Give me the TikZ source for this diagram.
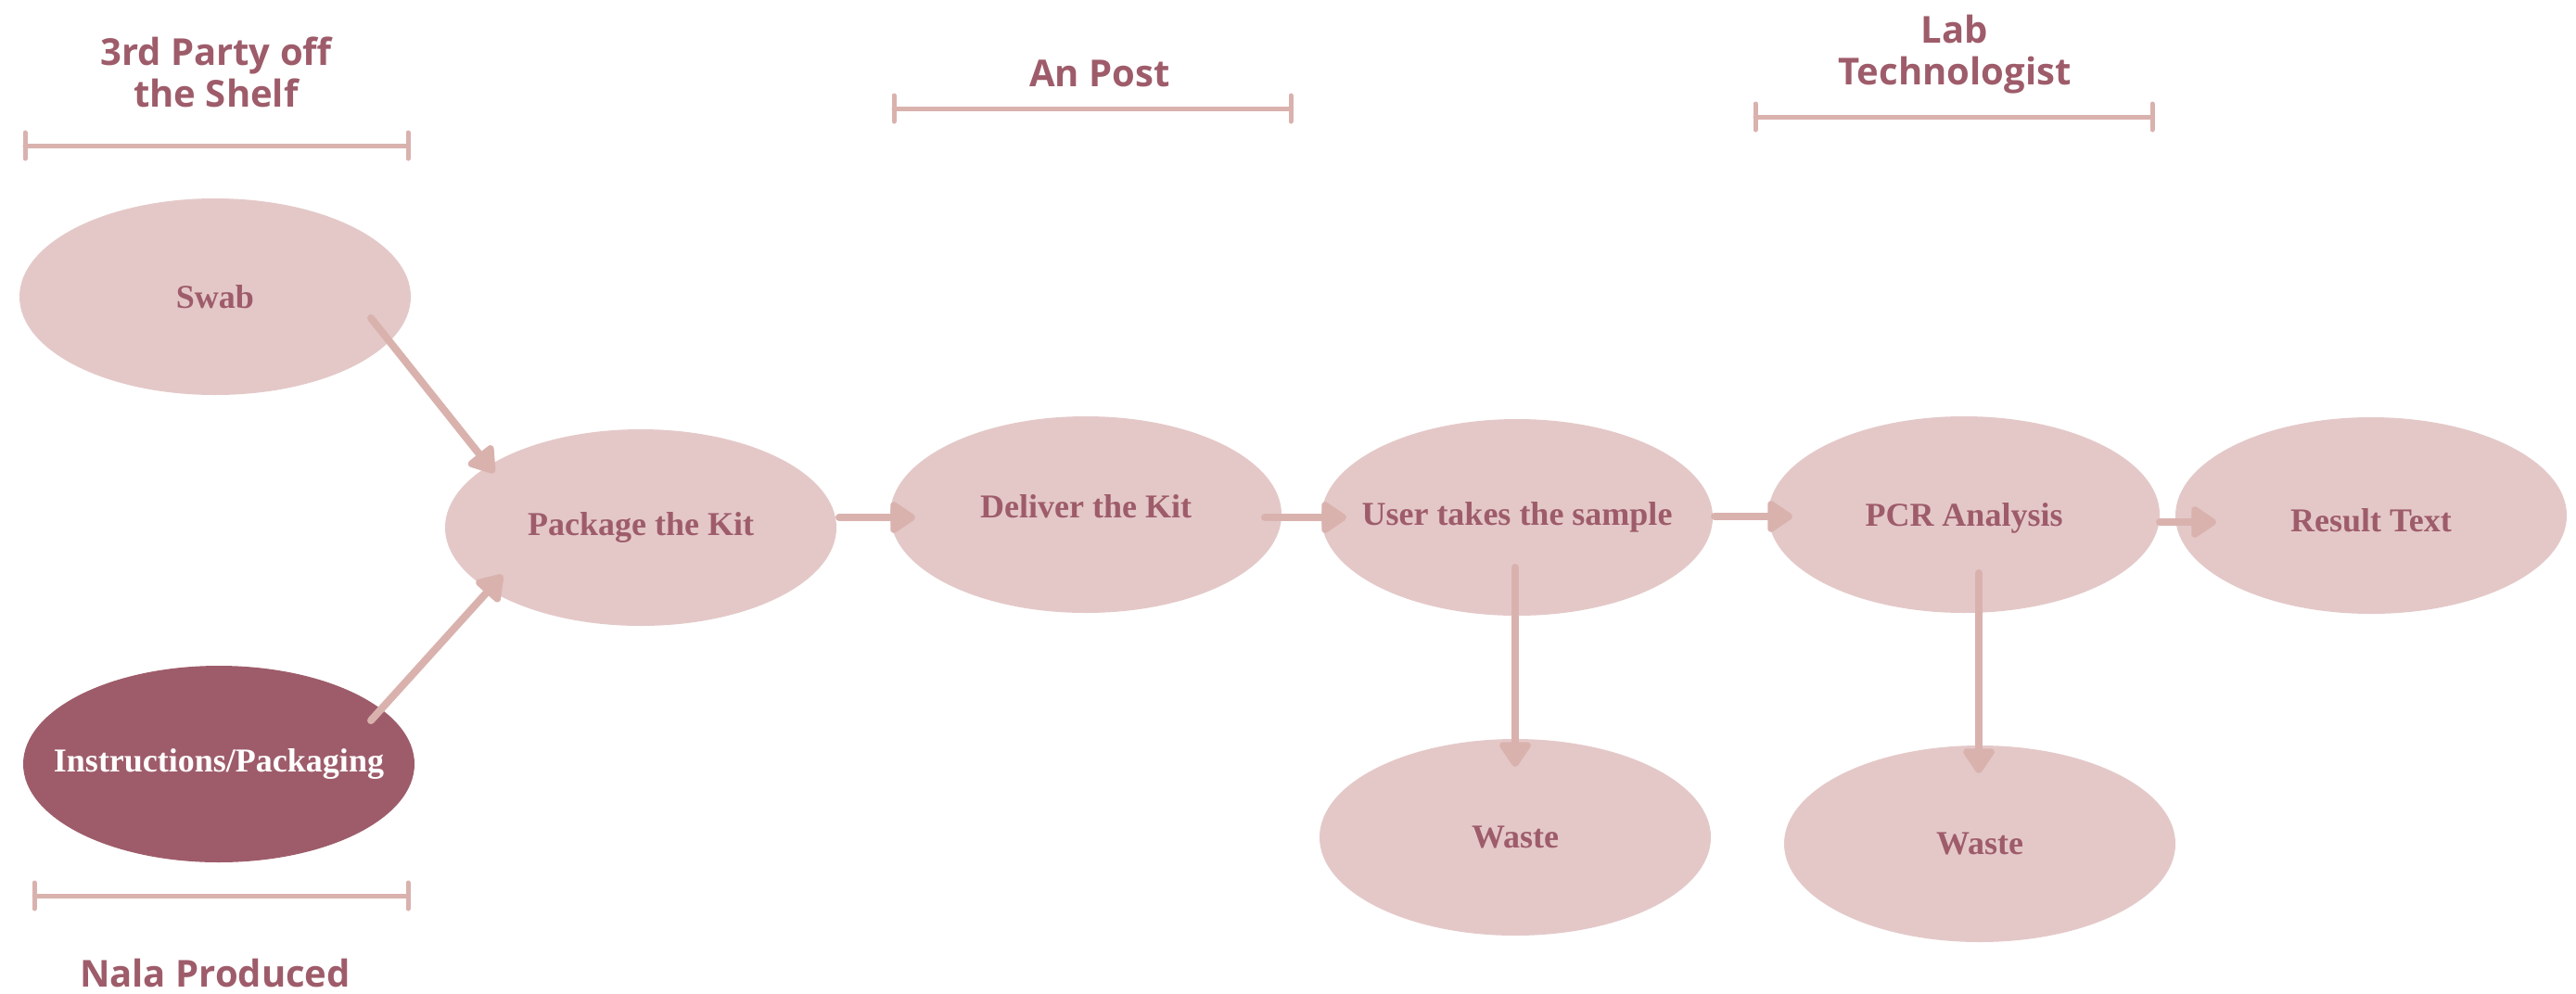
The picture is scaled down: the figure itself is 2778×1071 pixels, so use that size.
\documentclass[tikz,border=0pt]{standalone}
\usepackage{fontspec}
\setmainfont{Liberation Serif}
\newfontfamily\headfont{Open Sans}
\usetikzlibrary{shapes.geometric,arrows.meta}
\definecolor{blush}{HTML}{E4C8C8}
\definecolor{rose}{HTML}{D9B2AE}
\definecolor{plum}{HTML}{9E5C6A}
\begin{document}
\begin{tikzpicture}[x=1pt,y=-1pt,
  stage/.style 2 args={ellipse, fill=blush, draw=none, minimum width=422pt,
    minimum height=212pt, inner sep=0pt,
    label={[text=plum, inner sep=0pt, yshift=#2,
      font=\fontsize{36}{40}\selectfont\bfseries]center:#1}},
  own/.style={ellipse, fill=plum, draw=none, minimum width=422pt,
    minimum height=212pt, inner sep=0pt,
    label={[text=white, inner sep=0pt,
      font=\fontsize{36}{40}\selectfont\bfseries]center:#1}},
  flow/.style={draw=rose, line width=8pt, line cap=round,
    -{Triangle[length=30pt,width=38pt,round]}},
  span/.style={draw=rose, line width=5pt, line cap=round},
  head/.style={text=plum, font=\headfont\fontsize{40}{45}\selectfont\bfseries,
    align=center, inner sep=0pt}]

\useasboundingbox[fill=white] (0,0) rectangle (2778,1071);

% group headings
\node[head, anchor=north] (hshelf) at (233,40) {3rd Party off\\the Shelf};
\node[head, anchor=base] (hpost) at (1186,93) {An Post};
\node[head, anchor=north] (hlab) at (2108,16) {Lab\\Technologist};
\node[head, anchor=base] (hnala) at (232,1064) {Nala Produced};

% group spans
\draw[span] (27,157) -- (440,157) (27,143) -- (27,171) (440,143) -- (440,171);
\draw[span] (964,117) -- (1392,117) (964,103) -- (964,131) (1392,103) -- (1392,131);
\draw[span] (1893,126) -- (2321,126) (1893,112) -- (1893,140) (2321,112) -- (2321,140);
\draw[span] (37,966) -- (440,966) (37,952) -- (37,980) (440,952) -- (440,980);

% process stages
\node[stage={Swab}{0pt}] (swab) at (232,320) {};
\node[stage={Package the Kit}{0pt}] (pack) at (691,569) {};
\node[own={Instructions/Packaging}] (instr) at (236,824) {};
\node[stage={Deliver the Kit}{9pt}] (deliver) at (1171,555) {};
\node[stage={User takes the sample}{0pt}] (user) at (1636,558) {};
\node[stage={PCR Analysis}{-4pt}] (pcr) at (2118,555) {};
\node[stage={Result Text}{-5pt}] (result) at (2557,556) {};
\node[stage={Waste}{0pt}] (waste1) at (1634,903) {};
\node[stage={Waste}{0pt}] (waste2) at (2135,910) {};

% flow
\draw[flow] ([shift={(168,23)}]swab.center) -- ([shift={(-158,-59)}]pack.center);
\draw[flow] ([shift={(164,-47)}]instr.center) -- ([shift={(-149,51)}]pack.center);
\draw[flow] ([shift={(214,-11)}]pack.center) -- ([shift={(-184,3)}]deliver.center);
\draw[flow] ([shift={(193,3)}]deliver.center) -- ([shift={(-184,0)}]user.center);
\draw[flow] ([shift={(213,-1)}]user.center) -- ([shift={(-185,2)}]pcr.center);
\draw[flow] ([shift={(211,8)}]pcr.center) -- ([shift={(-167,7)}]result.center);
\draw[flow] ([shift={(-2,54)}]user.center) -- ([shift={(0,-76)}]waste1.center);
\draw[flow] ([shift={(16,63)}]pcr.center) -- ([shift={(-1,-76)}]waste2.center);
\end{tikzpicture}
\end{document}
